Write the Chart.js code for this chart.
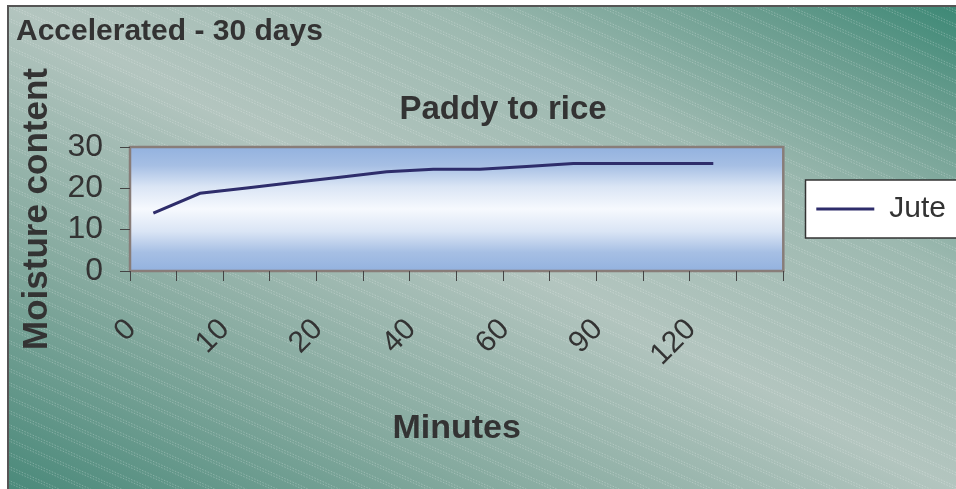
<html>

<head>
    <title>Paddy to rice</title>
    <script src="https://cdn.jsdelivr.net/npm/chart.js@4.4.0/dist/chart.umd.min.js"></script>
    <style>
        body { margin: 0; background: #fff; }
    </style>
</head>

<body>
    <canvas id="myChart" width="956" height="489"></canvas>
</body>
<script>
    // data
    var minutes = ['0', '', '10', '', '20', '', '40', '', '60', '', '90', '', '120', ''];
    var jute = [14, 18.8, 20.1, 21.4, 22.7, 24, 24.6, 24.6, 25.3, 26, 26, 26, 26, null];
    var yMin = 0, yMax = 30, yStep = 10;

    var sheetTitle = 'Accelerated - 30 days';
    var chartTitle = 'Paddy to rice';
    var xTitle = 'Minutes';
    var yTitle = 'Moisture content';

    var FONT = '"Liberation Sans", Arial, sans-serif';
    var INK = '#333333';

    // background, frame, plot area and the two titles
    var backdrop = {
        id: 'backdrop',
        beforeDraw: function (chart) {
            var ctx = chart.ctx, W = chart.width, H = chart.height, a = chart.chartArea;
            ctx.save();
            ctx.fillStyle = '#fff';
            ctx.fillRect(0, 0, W, H);

            var g = ctx.createLinearGradient(280, 632, 676, -143);
            g.addColorStop(0, '#4a897a');
            g.addColorStop(0.25, '#84a99e');
            g.addColorStop(0.5, '#b3c5bf');
            g.addColorStop(0.72, '#9db9b0');
            g.addColorStop(0.88, '#6a9d8f');
            g.addColorStop(1, '#3a8774');
            ctx.fillStyle = g;
            ctx.fillRect(8, 6, W, H);

            // dotted diagonal texture
            ctx.save();
            ctx.beginPath();
            ctx.rect(8, 6, W, H);
            ctx.clip();
            ctx.strokeStyle = 'rgba(255,255,255,0.25)';
            ctx.lineWidth = 1;
            ctx.setLineDash([1.5, 1.5]);
            ctx.beginPath();
            for (var y = -500; y < H; y += 14) {
                ctx.moveTo(8, y);
                ctx.lineTo(W, y + (W - 8) * 0.45);
                ctx.moveTo(8, y + 2.5);
                ctx.lineTo(W, y + 2.5 + (W - 8) * 0.45);
            }
            ctx.stroke();
            ctx.restore();

            ctx.strokeStyle = '#555';
            ctx.lineWidth = 2;
            ctx.strokeRect(8, 6, W, H);

            // plot area
            var pg = ctx.createLinearGradient(0, a.top, 0, a.bottom);
            pg.addColorStop(0, '#93b2df');
            pg.addColorStop(0.15, '#a6bfe4');
            pg.addColorStop(0.32, '#dae5f5');
            pg.addColorStop(0.5, '#f6f9fe');
            pg.addColorStop(0.68, '#dae5f5');
            pg.addColorStop(0.85, '#a6bfe4');
            pg.addColorStop(1, '#93b2df');
            ctx.fillStyle = pg;
            ctx.fillRect(a.left, a.top, a.right - a.left, a.bottom - a.top);
            ctx.strokeStyle = '#887d79';
            ctx.lineWidth = 2.5;
            ctx.strokeRect(a.left, a.top, a.right - a.left, a.bottom - a.top);

            // legend box
            var cy = (a.top + a.bottom) / 2;
            ctx.fillStyle = '#fff';
            ctx.fillRect(805, cy - 29, W, 58);
            ctx.strokeStyle = '#333';
            ctx.lineWidth = 1.5;
            ctx.strokeRect(805.5, cy - 29, W, 58);

            // titles
            ctx.fillStyle = INK;
            ctx.textBaseline = 'alphabetic';
            ctx.textAlign = 'left';
            ctx.font = 'bold 30px ' + FONT;
            ctx.fillText(sheetTitle, 16, 40);
            ctx.textAlign = 'center';
            ctx.font = 'bold 33px ' + FONT;
            ctx.fillText(chartTitle, 503, 119);
            ctx.restore();
        }
    };

    var ctx = document.getElementById('myChart').getContext('2d');
    var chart = new Chart(ctx, {
        type: 'line',
        data: {
            labels: minutes,
            datasets: [{
                label: 'Jute',
                data: jute,
                borderColor: '#2e2d6b',
                backgroundColor: '#2e2d6b',
                borderWidth: 3,
                pointRadius: 0,
                tension: 0
            }]
        },
        options: {
            responsive: false,
            animation: false,
            layout: { padding: { left: 12, top: 147, right: 0, bottom: 36 } },
            plugins: {
                tooltip: { enabled: false },
                legend: {
                    position: 'right',
                    fullSize: false,
                    labels: {
                        usePointStyle: true,
                        pointStyle: 'line',
                        pointStyleWidth: 58,
                        padding: 33,
                        color: INK,
                        font: { family: FONT, size: 30 }
                    }
                }
            },
            scales: {
                x: {
                    offset: true,
                    grid: { offset: true, drawOnChartArea: false, tickLength: 10, color: '#444' },
                    border: { display: false },
                    ticks: {
                        autoSkip: false,
                        maxRotation: 45,
                        minRotation: 45,
                        padding: 31,
                        labelOffset: -22,
                        color: INK,
                        font: { family: FONT, size: 30 }
                    },
                    title: {
                        display: true,
                        text: xTitle,
                        color: INK,
                        padding: { top: 4, bottom: 4 },
                        font: { family: FONT, size: 34, weight: 'bold' }
                    },
                    afterFit: function (s) { s.height = 182; }
                },
                y: {
                    min: yMin,
                    max: yMax,
                    grid: { drawOnChartArea: false, tickLength: 10, color: '#444' },
                    border: { display: false },
                    ticks: {
                        stepSize: yStep,
                        autoSkip: false,
                        padding: 17,
                        color: INK,
                        font: { family: FONT, size: 32 }
                    },
                    title: {
                        display: true,
                        text: yTitle,
                        color: INK,
                        padding: { top: 4, bottom: 4 },
                        font: { family: FONT, size: 35, weight: 'bold' }
                    },
                    afterFit: function (s) { s.width = 118; }
                }
            }
        },
        plugins: [backdrop]
    });
</script>

</html>
